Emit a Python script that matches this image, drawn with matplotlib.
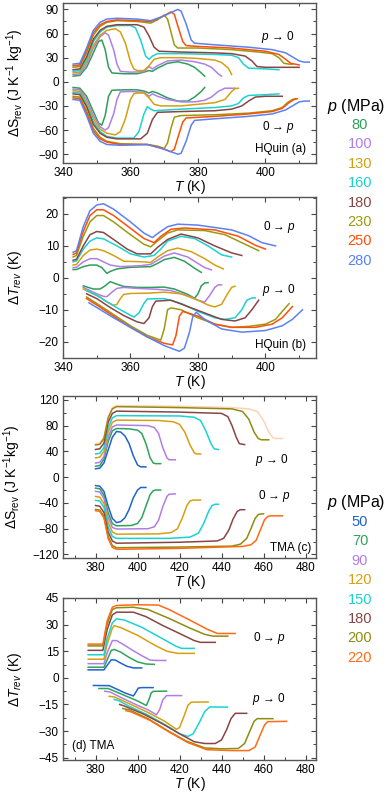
import numpy as np
import matplotlib
matplotlib.use("Agg")
import matplotlib.pyplot as plt
from matplotlib.ticker import MultipleLocator

plt.rcParams['font.family'] = ['Liberation Sans', 'DejaVu Sans']
plt.rcParams['mathtext.fontset'] = 'custom'
plt.rcParams['mathtext.rm'] = 'Liberation Sans'
plt.rcParams['mathtext.it'] = 'Liberation Sans:italic'

# pressures and colours
hq_p = [80, 100, 130, 160, 180, 230, 250, 280]
hq_colors = ['#2e9e5b', '#b07fe6', '#d4a010', '#19d3d3', '#874646', '#9a9a10', '#ff4f0a', '#5a82f0']
tma_p = [50, 70, 90, 120, 150, 180, 200, 220]
tma_colors = ['#2062d0', '#2ea35a', '#b07fe6', '#d8a010', '#19d3d3', '#874646', '#8d8d10', '#ff6a14']

# (a) HQuin dS, p -> 0  (T, dS)
a_rel = [
    [(343,7),(345,8),(347,18),(349,36),(350.5,50),(351.5,52),(352.5,40),(353.5,18),(354.5,11),(358,10),(362,10),(364,12),(365.5,14),(366.5,13),(368,17),(371,23),(374,25),(377,22),(379,18),(381,11),(382,7)],
    [(343,9),(345,10),(347,22),(349,42),(351,56),(352.5,61),(353.5,58),(355,40),(356,22),(357,13),(360,12),(364,12.5),(365.5,19),(366.5,16),(368,20),(371,26),(375,27),(379,25),(382,22),(384,18),(386,10),(387,7)],
    [(343,11),(345,12),(347,25),(349,45),(351,58),(353,64),(355.5,66),(357,62),(358.5,48),(360,25),(361,16),(362,14),(364,14),(365.5,20),(367,28),(369,30),(375,30),(380,29),(385,27),(387,24),(389,17),(390,9)],
    [(343,13),(345,14),(347,28),(349,50),(351,62),(353,68),(356,70),(360,70),(361.5,67),(363,52),(364.5,32),(365.5,28),(366.5,32),(368,35),(375,35),(385,34),(390,33),(392,30),(393.5,22),(395,17),(400,16),(404,15)],
    [(343,15),(345,16),(347,31),(349,53),(351,64),(353,69),(356,71),(362,71),(364,68),(365.5,57),(367,43),(368.5,38),(375,37),(385,36),(390,35),(394,32),(396,26),(397.5,19),(400,18),(410,18)],
    [(343,18),(345,19),(347,36),(349,58),(351,69),(353,74),(356,76),(362,75),(366,73),(368,77),(370,83),(371,78),(372,62),(373,46),(374,42),(380,42),(390,40),(398,37),(402,35),(404,30),(405.5,23),(407,22),(408,22)],
    [(343,20),(345,21),(347,39),(349,61),(351,71),(353,75),(356,77),(362,76),(366,75),(369,80),(372,87),(373,84),(374,70),(375.5,50),(376.5,45),(380,44),(390,42),(400,38),(404,34),(406,28),(407.5,23),(410,21)],
    [(343,22),(345,23),(347,42),(349,64),(351,74),(353,78),(356,79),(362,78),(366,76),(370,82),(374,90),(375,88),(376.5,72),(378,52),(379,48),(385,46),(395,43),(402,40),(406,36),(408,31),(410,26),(411.5,24.5),(413,24.5)],
]
# (a) HQuin dS, 0 -> p
a_app = [
    [(343,-7),(345,-8),(347,-18),(349,-37),(350.5,-51),(351.5,-54),(352.5,-42),(353.5,-18),(354.5,-10.5),(358,-10),(362,-10),(364,-11.5),(365.5,-14),(366.5,-12),(368,-14),(371,-20),(374,-24),(377,-24),(379,-19),(381,-12),(382,-7)],
    [(343,-9),(345,-10),(347,-22),(349,-42),(351,-56),(352.5,-60),(353.5,-57),(355,-40),(356,-22),(357,-12.5),(360,-12),(364,-13),(365.5,-18),(366.5,-15),(368,-18),(371,-22),(375,-25),(379,-25),(382,-23),(384,-19),(386,-12),(388,-8),(391,-8)],
    [(343,-11),(345,-12),(347,-26),(349,-46),(351,-59),(353,-64),(355.5,-66),(357,-62),(358.5,-46),(360,-22),(361,-15),(362,-14),(364,-14),(365.5,-20),(367,-28),(369,-30),(375,-30),(380,-28),(385,-26),(388,-22),(390,-12),(391,-8.5),(392,-8)],
    [(343,-13),(345,-14),(347,-29),(349,-50),(351,-62),(353,-68),(356,-70),(361,-70),(362.5,-62),(364,-40),(365,-31),(366,-34),(367,-36),(375,-34),(385,-32),(390,-30),(392,-27),(393.5,-20),(395,-17),(400,-16),(404,-15)],
    [(343,-15),(345,-16),(347,-31),(349,-53),(351,-64),(353,-69),(356,-71),(363,-71),(365,-64),(366.5,-47),(368,-38),(375,-37),(385,-36),(390,-34),(393,-30),(395,-24),(397,-19),(400,-18),(405,-18)],
    [(343,-18),(345,-19),(347,-36),(349,-58),(351,-69),(353,-74),(357,-77),(365,-78),(368,-80),(370,-83),(371,-76),(372,-58),(373,-44),(375,-42),(385,-41),(395,-39),(402,-36),(405,-32),(406.5,-26),(408,-22),(409,-21)],
    [(343,-20),(345,-21),(347,-39),(349,-61),(351,-71),(353,-75),(357,-78),(365,-78),(369,-82),(372,-87),(373,-84),(374,-70),(375.5,-50),(376.5,-45),(385,-43),(395,-40),(402,-37),(405,-33),(407,-26),(408.5,-22),(409.5,-21)],
    [(343,-22),(345,-23),(347,-42),(349,-64),(351,-74),(353,-78),(357,-79),(365,-78),(370,-84),(374,-90),(375,-89),(376.5,-74),(378,-54),(379,-48),(385,-46),(395,-43),(402,-40),(406,-35),(408,-30),(410,-25),(411.5,-24),(413,-24)],
]

# (b) HQuin dT, 0 -> p
b_app = [
    [(343,2.6),(344,2.6),(346,3.5),(348,4),(350,4),(351.5,3.2),(353,1.4),(354,2),(356,2.8),(360,3.3),(366,3.5),(368,4.5),(370,5.7),(373,6.4),(376,5.2),(379,3),(381,1.7)],
    [(343,3.2),(344,3.3),(346,5),(348,6),(350,6),(352,5),(354,4),(357,3.5),(363,3.8),(366,4.2),(368,5.5),(370,6.8),(373,7.8),(377,6.5),(380,4.5),(382,3.2),(384,2.5)],
    [(343,4),(344,4.2),(346,7),(348,8.7),(350,9),(352,8.5),(355,7),(358,5.2),(364,5),(366,4.8),(368,6.5),(371,8.5),(374,9.3),(378,8.2),(382,6),(385,4),(387.5,2.8)],
    [(343,5),(344,5.3),(346,9),(348,11.5),(350,12.5),(352,12.2),(356,10),(360,7.5),(364,6.5),(367,7),(369,9),(371,11.5),(375,13),(379,12.3),(383,10),(387,7.2),(390,6.5)],
    [(343,5.5),(344,5.8),(346,10),(348,13.5),(350,14.5),(352,14.2),(355,12),(359,9),(362,7.5),(366,7.5),(368,9.5),(371,12),(375,13.7),(380,12.5),(385,10),(390,7.8),(393,7)],
    [(343,6.5),(344,7),(346,13),(348,17.5),(350,19.5),(352,19.5),(355,17.5),(360,13.5),(364,10.5),(366,9.7),(368,11.5),(371,14),(374,15),(382,14.8),(388,13.5),(393,11),(398,8.5)],
    [(343,7.3),(344,7.8),(346,14.5),(348,19.5),(350,21.3),(352,21.3),(355,19.5),(360,15.5),(364,12.3),(367,11),(369,13),(372,15.2),(376,15.6),(385,15),(392,13),(397,10.2),(400,9)],
    [(343,8),(344,8.5),(346,16),(348,21),(350,22.8),(352,23.2),(355,21.5),(360,17.5),(364,14),(366.5,12.6),(368.5,14.2),(371,16),(374,16.8),(380,16.5),(390,15),(395,13.2),(399,11),(403,10)],
]
# (b) HQuin dT, p -> 0
b_rel = [
    [(346,-2.5),(349,-3.5),(351,-3.5),(352.5,-2.5),(354,-1.2),(356,-2),(358,-2.7),(362,-3),(366,-3),(370,-2.9),(373,-3.5),(377,-5.2),(379,-6.4),(380,-5),(381,-2.5),(382,-1.6),(383,-1.5)],
    [(346,-3),(348,-4),(350,-5),(352,-5.8),(353,-5.9),(354.5,-4.5),(356,-3.3),(358,-3),(362,-3.3),(368,-3.6),(372,-4),(377,-5.6),(380,-7),(382,-7.6),(383.5,-5.5),(385,-3),(386,-2.2),(387,-2.2)],
    [(346,-3.5),(348,-4.5),(351,-6),(353,-7.5),(355,-8.6),(356,-8.3),(357,-6.5),(358,-5.2),(360,-4.9),(365,-4.8),(370,-4.5),(375,-5),(380,-7),(383,-8.5),(385,-9.1),(387,-8.3),(388.5,-5.5),(390,-3),(391,-2.6)],
    [(347,-4),(350,-5.5),(353,-7.5),(357,-10),(361,-12.3),(362.5,-11),(364,-8),(365,-6.6),(370,-6.5),(375,-8),(380,-10.5),(385,-12.5),(388,-13),(391,-12.5),(393,-10),(394.5,-7),(396,-6.3),(397,-6.3)],
    [(347,-5),(350,-6.5),(354,-9.3),(358,-11.8),(362,-13.8),(364,-14.3),(365.5,-12.5),(366.5,-9),(367.5,-7.3),(372,-7),(377,-9),(382,-11),(387,-13),(391,-13.5),(394,-12.5),(396,-10),(398,-7)],
    [(347,-6),(350,-8),(355,-11.5),(360,-15),(365,-18),(369,-19.5),(370,-16),(371,-10),(372,-9.4),(375,-10),(380,-12.5),(385,-14.5),(390,-15.5),(395,-15.2),(400,-14.5),(403,-13),(405,-10.5),(407,-8.1)],
    [(347,-6.5),(350,-8.5),(355,-12),(360,-15.5),(365,-18.5),(370,-20.5),(372.5,-21),(373.5,-18),(374.5,-12),(375.5,-10.5),(380,-12),(385,-14.5),(390,-15.5),(397,-15.5),(402,-14.5),(405,-12.5),(408,-9)],
    [(347.7,-7.8),(350,-9.3),(355,-12.5),(360,-15.5),(365,-18.5),(370,-21.2),(374.5,-23),(376,-22),(377.5,-17),(378.5,-12),(379.5,-10.8),(382,-13),(387,-16),(393,-17),(400,-16.5),(405,-15),(408,-13),(411,-10)],
]

# (c) TMA dS, p -> 0
c_rel = [
    [(380,13),(382,14),(384,22),(386,42),(388,62),(390,71),(392,70),(394,64),(396,52),(398,33),(400,19),(401.5,16),(404,16)],
    [(380,17),(382,18),(384,28),(386,55),(388,72),(390,75.5),(396,75),(400,73),(402,68),(404,52),(406,30),(407.5,22),(408.5,21),(411,21)],
    [(380,22),(382,23),(384,32),(386,62),(388,78),(390,81),(405,80),(408,77),(410,68),(412,46),(414,30),(415,27),(418,27)],
    [(380,30),(382,31),(384,40),(386,70),(388,85),(390,88.5),(410,88),(417,86),(420,82),(422.5,70),(425,50),(427,38),(428,36),(430,36)],
    [(380,36),(382,37),(384,46),(386,77),(388,92),(390,95.5),(420,95),(427,93),(430,88),(432.5,72),(435,52),(436.5,44),(438.5,43)],
    [(380,43),(382,44),(384,53),(386,85),(388,99),(390,102.5),(420,101),(440,99),(443,94),(445,80),(447,62),(448.5,52),(451,50.5)],
    [(380,50),(382,51),(384,60),(386,92),(388,106),(390,109.5),(420,108),(445,106),(450,102),(453,90),(455.5,70),(457.5,60),(459,58),(462.5,58)],
    [(380,52),(382,53),(384,62),(386,94),(388,108),(390,111),(420,110),(445,108),(453,106),(457,102),(460,88),(462.5,70),(464.5,61),(466,60),(469,60)],
]
# (c) TMA dS, 0 -> p
c_app = [
    [(380,-13),(382,-14),(384,-22),(386,-45),(388,-64),(390,-70.5),(392,-69),(394,-63),(396,-50),(398,-32),(400,-20),(401.5,-16),(404,-16)],
    [(380,-17),(382,-18),(384,-28),(386,-55),(388,-72),(390,-75.5),(397,-75),(400,-72),(402,-63),(404,-45),(406,-27),(407.5,-21),(408.5,-20),(411,-20)],
    [(380,-22),(382,-23),(384,-33),(386,-62),(388,-78),(390,-80.5),(405,-80),(408,-77),(410,-67),(412,-46),(414,-30),(415,-26.5),(418,-26)],
    [(380,-30),(382,-31),(384,-41),(386,-70),(388,-85),(390,-88.5),(410,-88),(416,-86),(419,-80),(421.5,-62),(423.5,-44),(425,-37),(426.5,-35.5),(430,-35.5)],
    [(380,-36),(382,-37),(384,-47),(386,-77),(388,-92),(390,-95),(415,-95),(425,-93),(429,-87),(431.5,-72),(434,-52),(435.5,-44),(437,-42),(438.5,-42)],
    [(380,-44),(382,-45),(384,-55),(386,-85),(388,-99),(390,-102.5),(420,-101),(438,-99),(441,-95),(443.5,-82),(445.5,-65),(447.5,-53),(449,-50.5),(451,-50.5)],
    [(380,-50),(382,-51),(384,-61),(386,-92),(388,-106),(390,-109.5),(420,-108.5),(445,-107),(449,-104),(452,-95),(454,-80),(456,-64),(457.5,-58),(459,-57),(460,-57)],
    [(380,-52),(382,-53),(384,-63),(386,-95),(388,-109),(390,-112),(420,-110.5),(450,-107.5),(454,-105),(456.5,-98),(458.5,-82),(460.5,-66),(462,-61),(463.5,-60),(469,-60)],
]

# (d) TMA dT, 0 -> p
d_app = [
    [(376.5,4.5),(384,4.5),(385.5,7),(387.5,10.2),(389.5,10),(392,8.3),(395,6.5),(398,5.6),(402,5.6)],
    [(376.5,6),(384,6),(385.5,10),(387.5,15.5),(389,16),(392,14.5),(396,11.5),(400,9),(404,7.8),(408,7.6)],
    [(376.5,8),(384,8),(385.5,14),(388,21),(390,21),(393,19),(397,16),(402,12.5),(406,10),(409,9.8),(413.5,9.8)],
    [(376.5,10.5),(384,10.5),(385.5,19),(388,28),(389,29.4),(392,28.3),(400,24),(408,18.5),(414,15),(419,13.8),(427,13.8)],
    [(376.5,13),(384,13),(385.5,22),(388,31),(390,33.3),(394,32.5),(402,28.5),(412,22),(418,18),(421,16.6),(427,16.6)],
    [(376.5,15.5),(383.5,15.5),(385.5,27),(388,35.5),(390,37),(398,37),(404,34.5),(412,29.5),(420,25),(427,21),(430,20),(437,20)],
    [(376.5,18),(383.5,18),(385.5,30),(388,38.5),(390,39.5),(398,39.8),(405,38.5),(415,33.5),(425,28),(432,24.5),(436,23.5),(443,23.5)],
    [(376.5,19),(383.5,19),(385.5,32),(388,39.8),(390,40.8),(400,41.2),(410,41),(415,38.5),(425,32.5),(433,27.5),(438,25),(446.5,25)],
]
# (d) TMA dT, p -> 0
d_rel = [
    [(379,-4.3),(386.5,-4.4),(390,-6.3),(394,-8.5),(398,-10.2),(399,-8.5),(400.3,-5.8),(402,-5.5),(407.4,-5.5)],
    [(381.6,-6),(386,-6),(390,-8),(395,-10.5),(400,-13),(404.2,-15.6),(405.5,-12),(406.5,-8.5),(407.5,-7.6),(413.8,-7.5)],
    [(384.4,-7.5),(387,-8),(392,-11),(400,-15.5),(405,-18),(409,-20.8),(410.5,-18),(412,-12.5),(413.8,-10),(421,-10)],
    [(386.5,-10.4),(389,-10.8),(395,-14),(405,-19.5),(413,-24.5),(418.5,-29),(420,-28),(422,-22),(424,-15.5),(425.6,-13.7),(433.6,-13.6)],
    [(388.9,-12.2),(391,-12.8),(396,-16),(405,-21),(414,-27),(420,-31.5),(424,-33),(426.5,-31.5),(429.5,-25),(432,-19),(434.4,-16.4),(442.8,-16.5)],
    [(391.5,-15),(394,-16),(403,-20.5),(412,-26),(420,-31.5),(427,-36),(432,-37),(437,-37),(440,-35),(442.5,-29),(444.5,-23),(446.5,-20),(452,-20)],
    [(393,-17.3),(396,-18),(405,-23),(414,-29.5),(423,-35.5),(432,-39.5),(440,-40),(448,-39.8),(451,-37),(453.5,-30),(455.5,-24.5),(457,-23),(464.5,-23)],
    [(394.5,-18.5),(397,-19.2),(406,-24),(415,-30.5),(424,-36.5),(433,-40.5),(445,-41),(453,-41),(456,-39),(458.5,-32),(460.5,-26.5),(462,-24.7),(471,-24.5)],
]

W, H = 387, 794
fig = plt.figure(figsize=(W / 100, H / 100), dpi=100)


def px_axes(top, bottom, left=63, right=316):
    return fig.add_axes([left / W, 1 - bottom / H, (right - left) / W, (bottom - top) / H])


def draw(ax, curves, colors, faint=()):
    for i, (pts, c) in enumerate(zip(curves, colors)):
        t, v = zip(*pts)
        a = 0.3 if i in faint else 1.0
        ax.plot(t, v, color=c, lw=1.1, alpha=a, solid_joinstyle='round')


def style(ax, xmaj, ymaj):
    ax.xaxis.set_major_locator(MultipleLocator(xmaj))
    ax.xaxis.set_minor_locator(MultipleLocator(xmaj / 2))
    ax.yaxis.set_major_locator(MultipleLocator(ymaj))
    ax.yaxis.set_minor_locator(MultipleLocator(ymaj / 2))
    ax.tick_params(which='both', direction='in', top=True, right=True, labelsize=8.5, colors='#444444', labelcolor='black')
    ax.tick_params(which='major', length=3.5, width=0.8, pad=3)
    ax.tick_params(which='minor', length=2, width=0.7)
    for s in ax.spines.values():
        s.set_color('#555555')
        s.set_linewidth(1.0)


ax_a = px_axes(3, 163)
ax_b = px_axes(197, 357.7)
ax_c = px_axes(396, 557.7)
ax_d = px_axes(598, 760)

draw(ax_a, a_rel, hq_colors)
draw(ax_a, a_app, hq_colors)
draw(ax_b, b_app, hq_colors)
draw(ax_b, b_rel, hq_colors)
draw(ax_c, c_rel, tma_colors, faint=(7,))
draw(ax_c, c_app, tma_colors)
draw(ax_d, d_app, tma_colors)
draw(ax_d, d_rel, tma_colors)

ax_a.set_xlim(340, 415)
ax_a.set_ylim(-101, 98)
ax_b.set_xlim(340, 415)
ax_b.set_ylim(-25, 25.3)
ax_c.set_xlim(364.5, 485)
ax_c.set_ylim(-125, 126)
ax_d.set_xlim(364.5, 485)
ax_d.set_ylim(-46.3, 45)

style(ax_a, 20, 30)
style(ax_b, 20, 10)
style(ax_c, 20, 40)
style(ax_d, 20, 15)

ylabels = [r'$\Delta$S$_{\rm rev}$ (J K$^{-1}$ kg$^{-1}$)', r'$\Delta T_{rev}$ (K)',
           r'$\Delta$S$_{\rm rev}$ (J K$^{-1}$kg$^{-1}$)', r'$\Delta T_{rev}$ (K)']
ylab_x = [15, 15, 12, 15]
for ax, lab, lx in zip([ax_a, ax_b, ax_c, ax_d], ylabels, ylab_x):
    ax.set_ylabel(lab, fontsize=10)
    ax.yaxis.set_label_coords((lx - 63) / 253, 0.5)
    ax.yaxis.label.set_va('center')
    ax.set_xlabel(r'$T$ (K)', fontsize=10)
    ax.xaxis.set_label_coords(0.5, -0.15)
    ax.xaxis.label.set_va('center')


def ftxt(x, y, s, **kw):
    fig.text(x / W, 1 - y / H, s, **kw)


# annotations
ftxt(278, 37, r'$p$ → 0', fontsize=8.5, ha='center', va='center')
ftxt(278, 127, r'0 → $p$', fontsize=8.5, ha='center', va='center')
ftxt(306, 149, 'HQuin (a)', fontsize=8.5, ha='right', va='center')
ftxt(279, 227, r'0 → $p$', fontsize=8.5, ha='center', va='center')
ftxt(279, 290, r'$p$ → 0', fontsize=8.5, ha='center', va='center')
ftxt(306, 345, 'HQuin (b)', fontsize=8.5, ha='right', va='center')
ftxt(272, 460, r'$p$ → 0', fontsize=8.5, ha='center', va='center')
ftxt(274, 496, r'0 → $p$', fontsize=8.5, ha='center', va='center')
ftxt(311, 548, 'TMA (c)', fontsize=8.5, ha='right', va='center')
ftxt(269, 638, r'0 → $p$', fontsize=8.5, ha='center', va='center')
ftxt(269, 699, r'$p$ → 0', fontsize=8.5, ha='center', va='center')
ftxt(72, 746, '(d) TMA', fontsize=8.5, ha='left', va='center')

# pressure legends
ftxt(356, 106, r'$p$ (MPa)', fontsize=11.5, ha='center', va='center')
for i, (p, c) in enumerate(zip(hq_p, hq_colors)):
    ftxt(360, 125 + i * 19.4, str(p), fontsize=10.5, color=c, ha='center', va='center')
ftxt(356, 502.7, r'$p$ (MPa)', fontsize=11.5, ha='center', va='center')
for i, (p, c) in enumerate(zip(tma_p, tma_colors)):
    ftxt(360, 522 + i * 19.4, str(p), fontsize=10.5, color=c, ha='center', va='center')

fig.savefig('out.png', dpi=100)
